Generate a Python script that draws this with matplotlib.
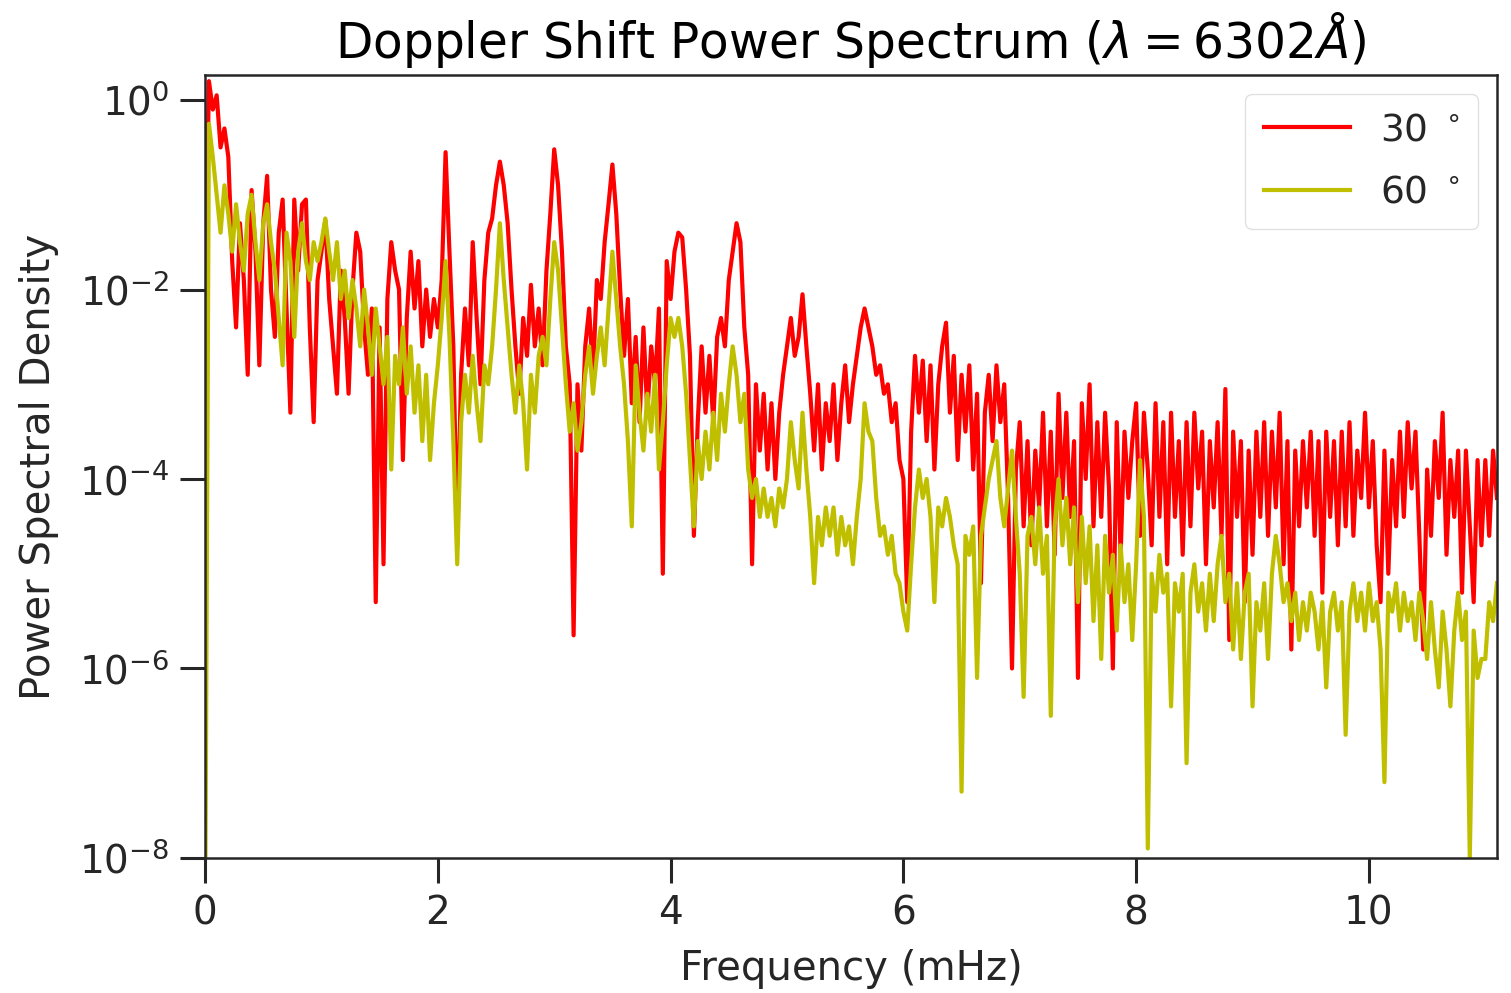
import numpy as np
import matplotlib
matplotlib.use("Agg")
import matplotlib.pyplot as plt

# log10 of power spectral density, 30 values per mHz (0 .. 11.1 mHz)
log_psd_30 = [
    # 0 - 1 mHz
    -2.3, 0.2, -0.1, 0.05, -0.5, -0.3, -0.6, -1.7, -2.4, -1.3, -1.9, -2.9, -0.95, -1.6, -2.8,
    -1.3, -0.8, -2.0, -2.5, -1.4, -1.05, -2.2, -3.3, -1.05, -1.8, -1.1, -1.05, -2.4, -3.4, -1.9,
    # 1 - 2
    -1.6, -1.27, -2.1, -2.6, -3.1, -1.8, -2.3, -3.1, -2.0, -1.4, -1.6, -2.4, -2.9, -2.2, -5.3,
    -2.4, -4.9, -2.1, -1.5, -1.8, -2.0, -3.8, -2.3, -1.6, -2.2, -1.7, -2.6, -2.0, -2.5, -2.1,
    # 2 - 3
    -2.4, -1.9, -0.55, -1.6, -2.6, -4.7, -2.9, -2.2, -2.8, -1.5, -2.3, -3.0, -1.9, -1.4, -1.25,
    -0.9, -0.65, -0.9, -1.3, -2.0, -2.6, -3.1, -2.3, -2.7, -1.95, -2.6, -2.2, -2.8, -1.8, -1.2,
    # 3 - 4
    -0.52, -0.9, -1.6, -2.6, -3.0, -5.65, -3.0, -3.7, -2.6, -2.2, -2.9, -1.9, -2.1, -1.5, -1.1,
    -0.68, -1.2, -2.0, -2.7, -2.1, -3.2, -2.5, -3.4, -2.4, -3.3, -2.6, -3.0, -2.2, -5.0, -1.7,
    # 4 - 5
    -2.1, -1.6, -1.4, -1.45, -2.0, -2.7, -4.6, -3.4, -2.6, -3.3, -2.7, -3.4, -2.5, -2.3, -2.6,
    -1.9, -1.6, -1.3, -1.5, -2.4, -2.9, -4.9, -3.0, -3.7, -3.1, -3.9, -3.2, -4.0, -3.3, -2.9,
    # 5 - 6
    -2.6, -2.3, -2.7, -2.5, -2.05, -2.6, -3.1, -3.7, -3.0, -3.9, -3.2, -3.6, -3.0, -3.8, -3.2,
    -2.8, -3.4, -3.0, -2.7, -2.4, -2.2, -2.4, -2.6, -2.9, -2.8, -3.1, -3.0, -3.4, -3.2, -3.8,
    # 6 - 7
    -4.0, -5.3, -3.5, -2.7, -3.3, -2.75, -3.6, -2.8, -3.9, -3.0, -2.6, -2.35, -3.3, -2.7, -3.8,
    -2.9, -3.5, -2.8, -3.9, -3.1, -5.1, -3.3, -2.9, -3.6, -2.8, -3.4, -3.0, -4.2, -6.0, -3.9,
    # 7 - 8
    -3.4, -4.5, -3.6, -4.7, -3.7, -4.3, -3.3, -4.5, -3.5, -4.8, -3.1, -4.2, -3.3, -4.4, -3.6,
    -6.1, -3.2, -4.0, -3.0, -4.5, -3.4, -4.4, -3.3, -4.1, -6.0, -3.4, -4.8, -3.5, -4.2, -3.6,
    # 8 - 9
    -3.2, -4.6, -3.3, -3.9, -4.7, -3.2, -4.4, -3.4, -4.9, -3.3, -4.4, -3.6, -4.8, -3.4, -4.5,
    -3.3, -4.1, -3.5, -4.9, -3.6, -4.3, -3.4, -4.6, -3.05, -5.7, -3.5, -4.4, -3.6, -5.3, -3.7,
    # 9 - 10
    -4.8, -3.5, -4.4, -3.4, -4.6, -3.5, -4.3, -3.3, -4.9, -3.6, -5.8, -3.7, -4.5, -3.6, -4.3,
    -3.5, -4.6, -3.6, -5.2, -3.5, -4.4, -3.6, -4.7, -3.5, -4.5, -3.4, -4.6, -3.7, -4.2, -3.3,
    # 10 - 11
    -4.3, -3.6, -4.7, -5.3, -3.7, -5.0, -3.8, -4.5, -3.5, -4.4, -3.4, -4.1, -3.5, -4.6, -5.8,
    -3.9, -4.6, -3.6, -4.2, -3.3, -4.8, -3.8, -4.4, -3.7, -5.2, -3.7, -4.5, -5.3, -3.8, -4.7,
    # 11 - 11.1
    -3.8, -4.6, -3.7, -4.2,
]

log_psd_60 = [
    # 0 - 1 mHz
    -9.0, -0.25, -0.6, -1.0, -1.4, -0.9, -1.2, -1.6, -1.1, -1.5, -1.8, -1.2, -1.0, -1.5, -1.9,
    -1.3, -1.1, -1.5, -1.8, -2.3, -2.8, -1.4, -1.7, -2.5, -1.6, -1.3, -1.7, -1.9, -1.5, -1.7,
    # 1 - 2
    -1.5, -1.25, -1.6, -1.9, -1.5, -2.1, -1.8, -2.3, -1.9, -2.2, -2.6, -2.0, -2.4, -2.9, -2.2,
    -2.6, -3.0, -2.5, -3.9, -2.7, -3.0, -2.4, -3.1, -2.6, -3.3, -2.8, -3.6, -2.9, -3.8, -3.2,
    # 2 - 3
    -2.8, -2.3, -1.7, -2.5, -3.6, -4.9, -3.4, -2.9, -3.3, -2.7, -3.2, -3.6, -2.8, -3.0, -2.6,
    -2.0, -1.3, -1.9, -2.4, -2.9, -3.3, -2.8, -3.2, -3.9, -2.9, -3.3, -2.7, -2.5, -2.8, -2.1,
    # 3 - 4
    -1.5, -1.8, -2.4, -3.0, -3.5, -3.2, -3.7, -3.4, -2.9, -2.6, -3.1, -2.7, -2.4, -2.8, -2.2,
    -1.6, -2.1, -2.6, -3.0, -3.6, -4.5, -2.8, -3.3, -3.7, -3.1, -3.5, -2.9, -3.9, -3.4, -2.8,
    # 4 - 5
    -2.3, -2.5, -2.3, -2.6, -3.1, -3.8, -4.5, -3.6, -4.0, -3.5, -3.9, -3.3, -3.8, -3.1, -3.5,
    -3.0, -2.6, -2.9, -3.4, -3.1, -3.9, -4.2, -4.0, -4.4, -4.1, -4.4, -4.2, -4.5, -4.1, -4.3,
    # 5 - 6
    -4.0, -3.4, -3.8, -4.1, -3.3, -3.9, -4.4, -5.1, -4.4, -4.7, -4.3, -4.6, -4.3, -4.8, -4.4,
    -4.7, -4.5, -4.9, -4.4, -4.0, -3.2, -3.5, -3.6, -4.2, -4.6, -4.5, -4.8, -4.6, -5.0, -5.1,
    # 6 - 7
    -5.4, -5.6, -4.9, -4.3, -3.9, -4.2, -4.0, -4.4, -5.3, -4.3, -4.5, -4.2, -4.4, -4.7, -4.9,
    -7.3, -4.6, -4.8, -4.5, -6.1, -4.6, -4.3, -4.0, -3.8, -3.6, -4.2, -4.5, -4.1, -3.7, -4.4,
    # 7 - 8
    -5.0, -6.3, -4.6, -4.4, -4.9, -4.3, -5.0, -4.6, -6.5, -4.5, -4.0, -4.7, -4.2, -4.9, -4.3,
    -5.3, -4.4, -5.1, -4.5, -5.5, -4.7, -5.9, -4.6, -5.2, -4.8, -5.6, -4.7, -5.3, -4.9, -5.7,
    # 8 - 9
    -4.9, -3.8, -4.4, -7.9, -5.0, -5.4, -4.8, -5.2, -5.0, -6.4, -5.1, -5.4, -5.0, -7.0, -5.2,
    -4.9, -5.4, -5.1, -5.6, -5.0, -5.5, -4.9, -4.6, -5.3, -5.0, -5.8, -5.1, -5.9, -5.2, -5.0,
    # 9 - 10
    -6.4, -5.3, -5.6, -5.1, -5.9, -5.0, -4.6, -4.9, -5.3, -5.1, -5.5, -5.2, -5.7, -5.3, -5.6,
    -5.2, -5.4, -5.8, -5.3, -6.2, -5.4, -5.2, -5.6, -5.3, -6.7, -5.4, -5.1, -5.5, -5.2, -5.6,
    # 10 - 11
    -5.1, -5.5, -5.3, -5.8, -7.2, -5.2, -5.4, -5.1, -5.6, -5.2, -5.5, -5.3, -5.7, -5.2, -5.5,
    -5.9, -5.3, -5.8, -6.2, -5.4, -5.8, -6.4, -5.6, -5.2, -5.7, -5.4, -8.0, -5.6, -6.1, -5.9,
    # 11 - 11.1
    -5.9, -5.3, -5.5, -5.1,
]

# frequency bins (mHz), 1/30 mHz apart
freq = np.arange(len(log_psd_30)) / 30.0

labels = ['30 $^\\circ$', '60 $^\\circ$']
colors = ['r', 'y']

plt.rcParams['font.family'] = 'DejaVu Sans'
plt.rcParams['text.color'] = '0.15'
plt.rcParams['axes.labelcolor'] = '0.15'
plt.rcParams['xtick.color'] = '0.15'
plt.rcParams['ytick.color'] = '0.15'

fig = plt.figure(figsize=(15.11, 9.93), dpi=100)
ax = fig.add_axes([0.1357, 0.136, 0.855, 0.7885])

for lp, lab, col in zip([log_psd_30, log_psd_60], labels, colors):
    ax.plot(freq, 10.0 ** np.array(lp), color=col, lw=3.0, label=lab)

ax.set_yscale('log')
ax.set_ylim(1e-8, 1.84)
ax.set_xlim(0, 11.1)
ax.set_yticks([1e-8, 1e-6, 1e-4, 1e-2, 1e0])
ax.yaxis.set_minor_locator(matplotlib.ticker.NullLocator())
ax.set_xticks([0, 2, 4, 6, 8, 10])

for s in ax.spines.values():
    s.set_linewidth(1.8)
    s.set_color('0.15')
ax.tick_params(axis='both', which='major', length=18, width=2.2, labelsize=28, pad=8)

ax.set_xlabel('Frequency (mHz)', fontsize=29, labelpad=12)
ax.set_ylabel('Power Spectral Density', fontsize=29, labelpad=14)
ax.set_title(r'Doppler Shift Power Spectrum ($\lambda = 6302\AA$)', fontsize=35, color='black', pad=12)

leg = ax.legend(loc='upper right', fontsize=27, handlelength=2.3, borderpad=0.5,
                labelspacing=0.7, borderaxespad=0.5)
leg.get_frame().set_edgecolor('0.85')

fig.savefig('out.png', dpi=100)
